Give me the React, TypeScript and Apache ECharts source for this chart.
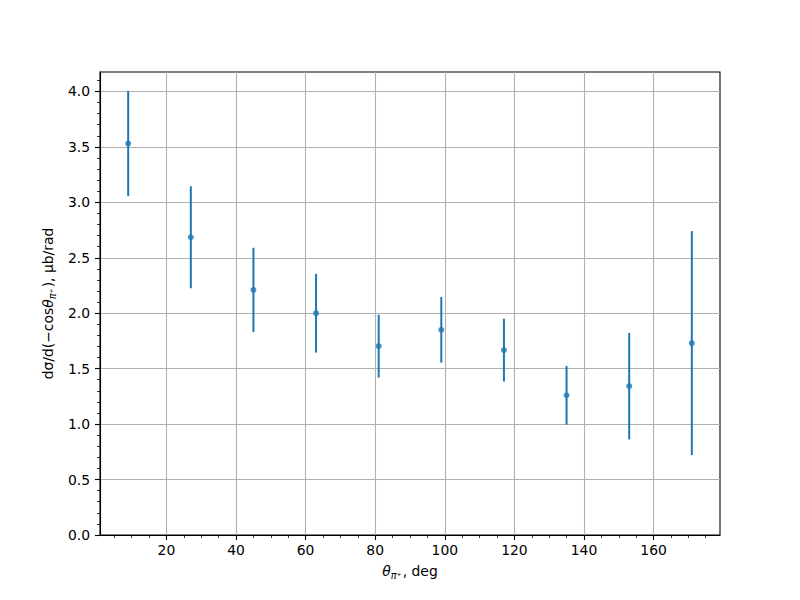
import React, { useEffect, useRef } from "react";
import * as echarts from "echarts";

const theta = [9, 27, 45, 63, 81, 99, 117, 135, 153, 171];
const sigma = [3.53, 2.685, 2.21, 2.0, 1.703, 1.85, 1.667, 1.26, 1.342, 1.73];
const sigmaErr = [0.475, 0.46, 0.38, 0.355, 0.283, 0.296, 0.283, 0.265, 0.48, 1.01];

const xMajorTicks = [20, 40, 60, 80, 100, 120, 140, 160];
const xMinorTicks = [5, 10, 15, 25, 30, 35, 45, 50, 55, 65, 70, 75, 85, 90, 95, 105, 110, 115, 125, 130, 135, 145, 150, 155, 165, 170, 175];
const yMajorTicks = [0, 0.5, 1.0, 1.5, 2.0, 2.5, 3.0, 3.5, 4.0];
const yMinorTicks = [0.1, 0.2, 0.3, 0.4, 0.6, 0.7, 0.8, 0.9, 1.1, 1.2, 1.3, 1.4, 1.6, 1.7, 1.8, 1.9, 2.1, 2.2, 2.3, 2.4, 2.6, 2.7, 2.8, 2.9, 3.1, 3.2, 3.3, 3.4, 3.6, 3.7, 3.8, 3.9, 4.1];

const X_MIN = 0.9;
const X_MAX = 179.1;
const Y_MIN = 0;
const Y_MAX = 4.175;

const FONT = "DejaVu Sans";
const COLOR = "#1f77b4";

export default function App() {
  const ref = useRef<HTMLDivElement>(null);

  useEffect(() => {
    if (!ref.current) return;
    const chart = echarts.init(ref.current, undefined, { renderer: "svg" });

    const errData = theta.map((t, i) => [t, sigma[i] - sigmaErr[i], sigma[i] + sigmaErr[i]]);
    const ptData = theta.map((t, i) => [t, sigma[i]]);

    const labelStyle = { color: "#000", fontFamily: FONT, fontSize: 13.9 };

    chart.setOption({
      animation: false,
      backgroundColor: "#fff",
      grid: {
        left: 100,
        top: 72,
        width: 620,
        height: 463,
        show: true,
        borderColor: "#000",
        borderWidth: 1.1,
        backgroundColor: "transparent",
      },
      xAxis: [
        {
          type: "value",
          min: X_MIN,
          max: X_MAX,
          position: "bottom",
          name: "{it|θ}{sub|π⁺}{n|, deg}",
          nameLocation: "middle",
          nameGap: 27,
          nameTextStyle: {
            ...labelStyle,
            rich: {
              it: { fontFamily: FONT, fontSize: 13.9, fontStyle: "italic", color: "#000" },
              sub: { fontFamily: FONT, fontSize: 9.7, fontStyle: "italic", color: "#000", padding: [8, 1, 0, 0] },
              n: { fontFamily: FONT, fontSize: 13.9, color: "#000" },
            },
          },
          axisLine: { show: true, lineStyle: { color: "#000", width: 1.1 } },
          axisTick: { show: true, customValues: xMajorTicks, length: 5, lineStyle: { color: "#000", width: 1.1 } },
          axisLabel: { ...labelStyle, customValues: xMajorTicks, margin: 8, formatter: (v: number) => String(v) },
          splitLine: { show: true, lineStyle: { color: "#b0b0b0", width: 1.1 } },
        },
        {
          type: "value",
          min: X_MIN,
          max: X_MAX,
          position: "bottom",
          axisLine: { show: false },
          axisTick: { show: true, customValues: xMinorTicks, length: 3, lineStyle: { color: "#000", width: 0.8 } },
          axisLabel: { show: false, customValues: xMinorTicks },
          splitLine: { show: false },
        },
      ],
      yAxis: [
        {
          type: "value",
          min: Y_MIN,
          max: Y_MAX,
          position: "left",
          name: "{n|dσ/d(−cos}{it|θ}{sub|π⁺}{n|), μb/rad}",
          nameLocation: "middle",
          nameRotate: 90,
          nameGap: 40,
          nameTextStyle: {
            ...labelStyle,
            rich: {
              it: { fontFamily: FONT, fontSize: 13.9, fontStyle: "italic", color: "#000" },
              sub: { fontFamily: FONT, fontSize: 9.7, fontStyle: "italic", color: "#000", padding: [8, 1, 0, 0] },
              n: { fontFamily: FONT, fontSize: 13.9, color: "#000" },
            },
          },
          axisLine: { show: true, lineStyle: { color: "#000", width: 1.1 } },
          axisTick: { show: true, customValues: yMajorTicks, length: 5, lineStyle: { color: "#000", width: 1.1 } },
          axisLabel: { ...labelStyle, customValues: yMajorTicks, margin: 10, formatter: (v: number) => v.toFixed(1) },
          splitLine: { show: true, lineStyle: { color: "#b0b0b0", width: 1.1 } },
        },
        {
          type: "value",
          min: Y_MIN,
          max: Y_MAX,
          position: "left",
          axisLine: { show: false },
          axisTick: { show: true, customValues: yMinorTicks, length: 3, lineStyle: { color: "#000", width: 0.8 } },
          axisLabel: { show: false, customValues: yMinorTicks },
          splitLine: { show: false },
        },
      ],
      series: [
        {
          type: "custom",
          xAxisIndex: 0,
          yAxisIndex: 0,
          data: errData,
          encode: { x: 0, y: [1, 2] },
          renderItem: (params: any, api: any) => {
            const x = api.value(0);
            const p1 = api.coord([x, api.value(1)]);
            const p2 = api.coord([x, api.value(2)]);
            return {
              type: "line",
              shape: { x1: p1[0], y1: p1[1], x2: p2[0], y2: p2[1] },
              style: { stroke: COLOR, lineWidth: 2 },
            };
          },
          z: 3,
        },
        {
          type: "scatter",
          xAxisIndex: 0,
          yAxisIndex: 0,
          data: ptData,
          symbol: "circle",
          symbolSize: 6,
          itemStyle: { color: COLOR },
          z: 4,
        },
      ],
    });

    return () => chart.dispose();
  }, []);

  return (
    <div
      ref={ref}
      style={{ position: "absolute", left: 0, top: 0, width: 800, height: 600 }}
    />
  );
}
